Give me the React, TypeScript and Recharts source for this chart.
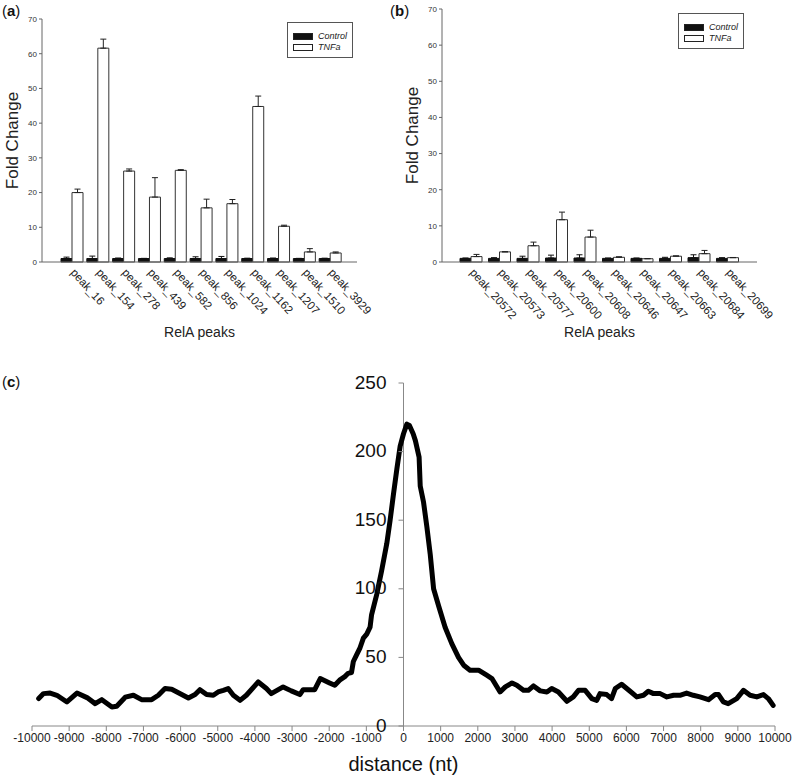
import React from 'react';
import {
  BarChart, Bar, XAxis, YAxis, ErrorBar, Legend,
  LineChart, Line, ReferenceLine, ReferenceDot,
} from 'recharts';

const FONT = '"Liberation Sans", Arial, Helvetica, sans-serif';

// ---------- Panel (a) ----------
const peaksA = ['peak_16', 'peak_154', 'peak_278', 'peak_439', 'peak_582', 'peak_856', 'peak_1024', 'peak_1162', 'peak_1207', 'peak_1510', 'peak_3929'];
const controlA = [1, 1, 1, 1, 1, 1, 1, 1, 1, 1, 1];
const controlErrA = [0.4, 0.7, 0.15, 0.05, 0.2, 0.5, 0.6, 0.1, 0.15, 0.05, 0.1];
const tnfaA = [20.0, 61.6, 26.2, 18.7, 26.4, 15.6, 16.8, 44.8, 10.3, 2.9, 2.6];
const tnfaErrA = [1.0, 2.6, 0.6, 5.6, 0.2, 2.5, 1.2, 3.0, 0.3, 0.95, 0.3];

// ---------- Panel (b) ----------
const peaksB = ['peak_20572', 'peak_20573', 'peak_20577', 'peak_20600', 'peak_20608', 'peak_20646', 'peak_20647', 'peak_20663', 'peak_20684', 'peak_20699'];
const controlB = [1, 1, 1, 1.1, 1.1, 1, 1, 1, 1.2, 1];
const controlErrB = [0.1, 0.2, 0.6, 0.8, 0.9, 0.1, 0.1, 0.3, 0.8, 0.2];
const tnfaB = [1.5, 2.8, 4.5, 11.7, 6.9, 1.3, 0.9, 1.6, 2.3, 1.2];
const tnfaErrB = [0.6, 0.05, 1.0, 2.1, 1.9, 0.15, 0.05, 0.1, 0.9, 0.05];

const foldTicks = [0, 10, 20, 30, 40, 50, 60, 70];

// ---------- Panel (c) ----------
const distance = [
  -9820, -9690, -9510, -9330, -9060, -8790, -8520, -8300, -8120, -7850, -7720, -7490, -7270, -7050, -6780,
  -6600, -6420, -6240, -6060, -5790, -5610, -5480, -5300, -5120, -4990, -4850, -4720, -4580, -4400, -4230,
  -3910, -3690, -3560, -3240, -3020, -2790, -2700, -2390, -2240, -1990, -1850, -1720, -1580, -1490, -1400,
  -1350, -1260, -1170, -1080, -990, -900, -860, -720, -590, -450, -360, -270, -180, -90, 0,
  90, 160, 260, 320, 420, 450, 540, 630, 720, 810, 940, 1120, 1300, 1480, 1620,
  1790, 2020, 2240, 2380, 2600, 2740, 2920, 3050, 3230, 3360, 3500, 3680, 3860, 3990, 4170,
  4400, 4570, 4710, 4890, 5070, 5200, 5290, 5470, 5600, 5700, 5870, 6100, 6280, 6460, 6590,
  6730, 6910, 7090, 7270, 7440, 7620, 7800, 7980, 8210, 8390, 8480, 8610, 8740, 8970, 9150,
  9330, 9510, 9690, 9820, 9950,
];
const signal = [
  20, 23.6, 24, 22.4, 17.5, 24, 20.7, 16.3, 19.2, 13.9, 14.4, 21, 22.4, 19.2, 19.2,
  22.4, 27.3, 26.8, 24.3, 20.4, 22.9, 26.5, 22.9, 22.4, 24.8, 26, 27.3, 22.4, 18.7, 22.4,
  32.1, 27.3, 23.6, 28.5, 25.6, 22.9, 26.5, 26.5, 34.6, 31.4, 29.7, 33.4, 36, 38.4, 39,
  47, 52, 57, 64, 67, 72, 81, 96, 113, 133, 150, 169, 187, 204, 213,
  220, 219, 213, 208, 196, 175, 163, 145, 125, 100, 88, 72, 60, 50, 44.3,
  40.7, 40.7, 37, 34.6, 24.8, 28.5, 31.4, 29.7, 26, 26, 29.2, 25.6, 24.8, 27.3, 24.8,
  18, 21.2, 26, 26, 20, 18.7, 23.6, 22.9, 20, 27.3, 30.4, 25.3, 21.2, 22.4, 25.3,
  23.6, 23.6, 21.2, 22.4, 22.4, 24, 22.4, 21.2, 19.2, 22.9, 22.9, 17.5, 16.3, 20, 26,
  22.4, 21.2, 22.9, 20, 15,
];
const distTicks = [-10000, -9000, -8000, -7000, -6000, -5000, -4000, -3000, -2000, -1000, 0, 1000, 2000, 3000, 4000, 5000, 6000, 7000, 8000, 9000, 10000];
const signalTicks = [0, 50, 100, 150, 200, 250];

const buildBarData = (names: string[], c: number[], ce: number[], t: number[], te: number[]) =>
  names.map((name, i) => ({ name, control: c[i], controlErr: [0, ce[i]], tnfa: t[i], tnfaErr: [0, te[i]] }));

const dataA = buildBarData(peaksA, controlA, controlErrA, tnfaA, tnfaErrA);
const dataB = buildBarData(peaksB, controlB, controlErrB, tnfaB, tnfaErrB);
const lineData = distance.map((d, i) => ({ d, v: signal[i] }));

const RotTick = (props: any) => {
  const { x, y, payload } = props;
  return (
    <g transform={`translate(${x - 2},${y + 11})`}>
      <text x={0} y={0} transform="rotate(48)" textAnchor="start" fontSize={11.5} fill="#222" fontFamily={FONT}>
        {payload.value}
      </text>
    </g>
  );
};

const LegendBox = (props: any) => {
  const payload = props.payload || [];
  return (
    <div style={{ width: 66, height: 36, boxSizing: 'border-box', border: '1px solid #555', background: '#fff', paddingTop: 8, paddingLeft: 5 }}>
      {payload.map((entry: any, i: number) => (
        <div key={i} style={{ display: 'flex', alignItems: 'center', height: 11, marginBottom: 0 }}>
          <span style={{ display: 'inline-block', width: 20, height: 7, boxSizing: 'border-box', background: entry.color, border: '1px solid #222' }} />
          <span style={{ marginLeft: 5, fontFamily: FONT, fontStyle: 'italic', fontSize: 9, color: '#222', lineHeight: '11px' }}>{entry.value}</span>
        </div>
      ))}
    </div>
  );
};

const foldLabel = (props: any) => {
  const vb = props.viewBox || { x: 0, y: 0, width: 42, height: 243 };
  const cx = vb.x + 12;
  const cy = vb.y + vb.height / 2;
  return (
    <text x={cx} y={cy} transform={`rotate(-90, ${cx}, ${cy})`} textAnchor="middle" dominantBaseline="central" fontSize={17} fill="#222" fontFamily={FONT}>
      Fold Change
    </text>
  );
};

const relaLabel = (props: any) => {
  const vb = props.viewBox || { x: 42, y: 262, width: 315, height: 70 };
  return (
    <text x={vb.x + vb.width / 2} y={vb.y + 75} textAnchor="middle" fontSize={14} fill="#222" fontFamily={FONT}>
      RelA peaks
    </text>
  );
};

const distLabel = (props: any) => {
  const vb = props.viewBox || { x: 32, y: 366, width: 743, height: 30 };
  return (
    <text x={vb.x + vb.width / 2} y={vb.y + 45} textAnchor="middle" fontSize={20} fill="#111" fontFamily={FONT}>
      distance (nt)
    </text>
  );
};

const FoldBars = ({ data, top, padL, padR, legendTop, legendLeft }: any) => (
  <BarChart width={400} height={340} data={data} margin={{ top, right: 43, bottom: 8, left: 0 }} barGap={0} barCategoryGap={0}>
    <XAxis dataKey="name" interval={0} tick={<RotTick />} tickLine={false} tickSize={0} tickMargin={0} height={70}
      axisLine={{ stroke: '#666' }} padding={{ left: padL, right: padR }} label={relaLabel} />
    <YAxis domain={[0, 70]} ticks={foldTicks} width={42} tickSize={3} tickMargin={2} interval={0}
      axisLine={{ stroke: '#666' }} tickLine={{ stroke: '#666' }}
      tick={{ fontSize: 8, fill: '#333', fontFamily: FONT }} label={foldLabel} />
    <Legend layout="vertical" align="center" verticalAlign="middle" content={<LegendBox />}
      wrapperStyle={{ top: legendTop, left: legendLeft, width: 66, height: 36 }} />
    <Bar dataKey="control" name="Control" fill="#111" stroke="#111" barSize={11} isAnimationActive={false}>
      <ErrorBar dataKey="controlErr" width={3} stroke="#111" strokeWidth={1} />
    </Bar>
    <Bar dataKey="tnfa" name="TNFa" fill="#fff" stroke="#333" strokeWidth={1} barSize={11} isAnimationActive={false}>
      <ErrorBar dataKey="tnfaErr" width={3} stroke="#222" strokeWidth={1} />
    </Bar>
  </BarChart>
);

const YTickMark = (v: number) => (props: any) => {
  const { cx, cy } = props;
  return (
    <g>
      <line x1={cx - 5} y1={cy} x2={cx} y2={cy} stroke="#888" strokeWidth={1} />
      <text x={cx - 17} y={cy - 1} textAnchor="end" dominantBaseline="central" fontSize={19} fill="#111" fontFamily={FONT}>{v}</text>
    </g>
  );
};

const panelLetter = (letter: string, left: number, top: number) => (
  <div style={{ position: 'absolute', left, top, fontFamily: FONT, fontSize: 15, lineHeight: '15px', color: '#111' }}>
    (<b>{letter}</b>)
  </div>
);

export default function App() {
  return (
    <div style={{ position: 'absolute', left: 0, top: 0, width: 800, height: 779, background: '#fff' }}>
      <div style={{ position: 'absolute', left: 0, top: 0 }}>
        <FoldBars data={dataA} top={19} padL={17} padR={14} legendTop={22} legendLeft={287} />
      </div>
      <div style={{ position: 'absolute', left: 400, top: 0 }}>
        <FoldBars data={dataB} top={9} padL={15} padR={15} legendTop={13} legendLeft={278} />
      </div>
      <div style={{ position: 'absolute', left: 0, top: 360 }}>
        <LineChart width={800} height={419} data={lineData} margin={{ top: 23, right: 25, bottom: 23, left: 32 }}>
          <XAxis type="number" dataKey="d" domain={[-10000, 10000]} ticks={distTicks} interval={0} height={30}
            tickSize={5} tickMargin={2} axisLine={{ stroke: '#888' }} tickLine={{ stroke: '#888' }}
            tick={{ fontSize: 12, fill: '#222', fontFamily: FONT }} label={distLabel} />
          <YAxis hide domain={[0, 250]} ticks={signalTicks} />
          <ReferenceLine x={0} stroke="#888" strokeWidth={1} ifOverflow="visible" />
          {signalTicks.map((v) => (
            <ReferenceDot key={v} x={0} y={v} r={0} ifOverflow="visible" shape={YTickMark(v)} />
          ))}
          <Line type="linear" dataKey="v" stroke="#000" strokeWidth={5} dot={false} strokeLinejoin="round" strokeLinecap="round" isAnimationActive={false} />
        </LineChart>
      </div>
      {panelLetter('a', 2, 3)}
      {panelLetter('b', 390, 3)}
      {panelLetter('c', 2, 374)}
    </div>
  );
}
